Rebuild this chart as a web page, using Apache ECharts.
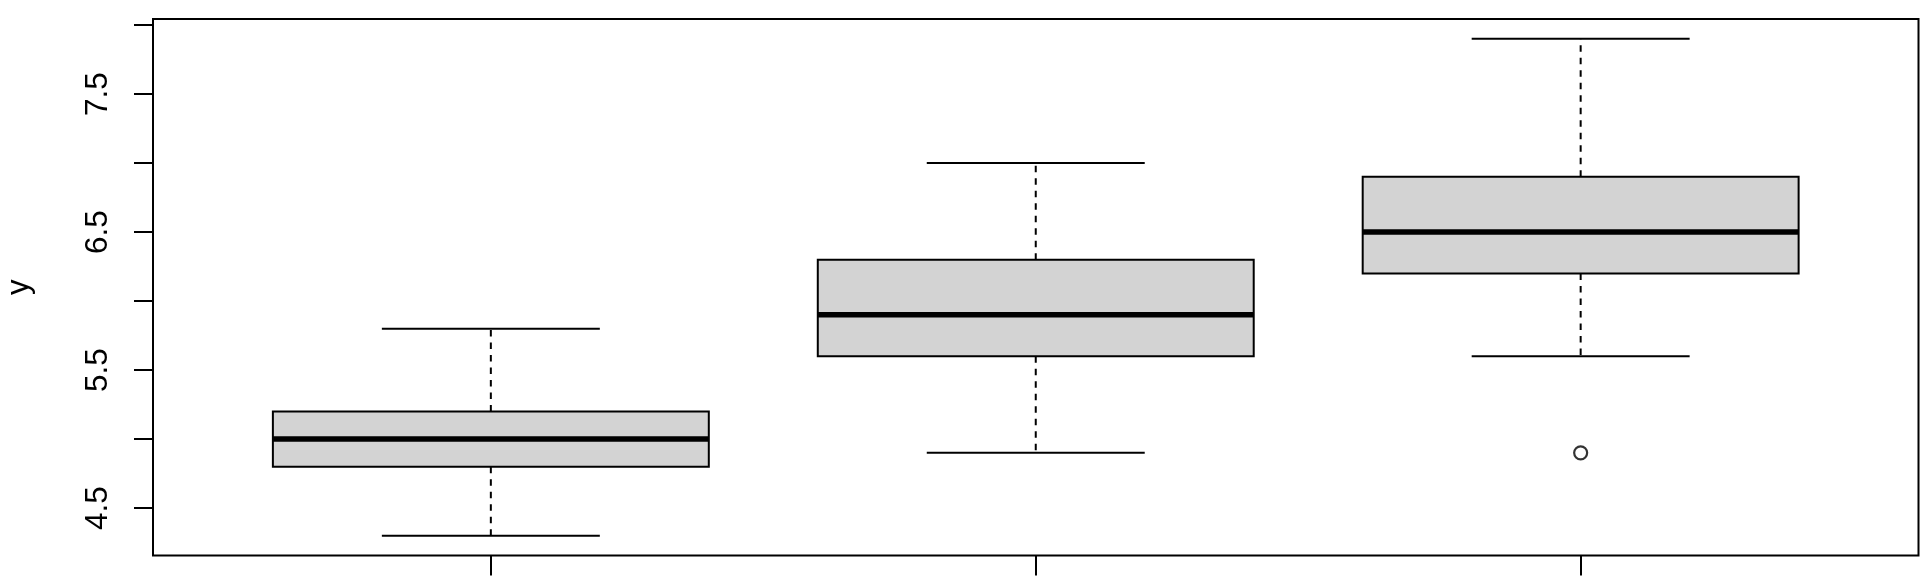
<!DOCTYPE html>
<html>
<head>
<meta charset="utf-8">
<script src="https://cdn.jsdelivr.net/npm/echarts@6/dist/echarts.min.js"></script>
<style>
html,body{margin:0;padding:0;background:#fff;}
#chart{width:1920px;height:576px;}
</style>
</head>
<body>
<div id="chart"></div>
<script>
// group positions (1, 2, 3)
const groups = [1, 2, 3];
const lowerWhisker = [4.3, 4.9, 5.6];
const q1 = [4.8, 5.6, 6.2];
const median = [5.0, 5.9, 6.5];
const q3 = [5.2, 6.3, 6.9];
const upperWhisker = [5.8, 7.0, 7.9];
const outliers = [[3, 4.9]];
const yTicks = [4.5, 5.0, 5.5, 6.0, 6.5, 7.0, 7.5, 8.0];
const yLabels = [4.5, 5.5, 6.5, 7.5];
const yName = 'y';

const boxData = groups.map((g, i) => [g, lowerWhisker[i], q1[i], median[i], q3[i], upperWhisker[i]]);

const chart = echarts.init(document.getElementById('chart'), null, {renderer: 'canvas'});
const FONT = "'Liberation Sans', Arial, Helvetica, sans-serif";

function renderBox(params, api) {
  const x = api.value(0);
  const lo = api.value(1), a = api.value(2), m = api.value(3), b = api.value(4), hi = api.value(5);
  const halfBox = 0.4, halfCap = 0.2;
  const pL = api.coord([x - halfBox, m]);
  const pR = api.coord([x + halfBox, m]);
  const cL = api.coord([x - halfCap, m]);
  const cR = api.coord([x + halfCap, m]);
  const cx = api.coord([x, m])[0];
  const yLo = api.coord([x, lo])[1];
  const yA = api.coord([x, a])[1];
  const yM = api.coord([x, m])[1];
  const yB = api.coord([x, b])[1];
  const yHi = api.coord([x, hi])[1];
  const solid = {stroke: '#000', lineWidth: 2, fill: null};
  const dashed = {stroke: '#000', lineWidth: 2, lineDash: [6.5, 6], fill: null};
  return {
    type: 'group',
    children: [
      {type: 'line', shape: {x1: cx, y1: yB, x2: cx, y2: yHi}, style: dashed},
      {type: 'line', shape: {x1: cx, y1: yA, x2: cx, y2: yLo}, style: dashed},
      {type: 'line', shape: {x1: cL[0], y1: yHi, x2: cR[0], y2: yHi}, style: solid},
      {type: 'line', shape: {x1: cL[0], y1: yLo, x2: cR[0], y2: yLo}, style: solid},
      {type: 'rect', shape: {x: pL[0], y: yB, width: pR[0] - pL[0], height: yA - yB},
        style: {fill: '#d3d3d3', stroke: '#000', lineWidth: 2}},
      {type: 'line', shape: {x1: pL[0], y1: yM, x2: pR[0], y2: yM}, style: {stroke: '#000', lineWidth: 5.5}}
    ]
  };
}

const option = {
  backgroundColor: '#fff',
  animation: false,
  grid: {left: 153, right: 1.5, top: 19, bottom: 20.5, containLabel: false, outerBoundsMode: 'none',
    show: true, borderColor: '#000', borderWidth: 2, backgroundColor: 'transparent'},
  xAxis: {
    type: 'value', min: 0.38, max: 3.62,
    axisLine: {show: false},
    axisTick: {show: true, length: 20, inside: false, customValues: groups, lineStyle: {color: '#000', width: 2}},
    axisLabel: {show: false},
    splitLine: {show: false}
  },
  yAxis: {
    type: 'value', min: 4.156, max: 8.044,
    name: yName, nameLocation: 'middle', nameGap: 118, nameRotate: 90,
    nameTextStyle: {fontFamily: FONT, fontSize: 31, color: '#000'},
    axisLine: {show: false},
    axisTick: {show: true, length: 19, inside: false, customValues: yTicks, lineStyle: {color: '#000', width: 2}},
    axisLabel: {show: true, customValues: yLabels, rotate: 90, margin: 39, fontFamily: FONT, fontSize: 31.5, color: '#000',
      formatter: v => v.toFixed(1)},
    splitLine: {show: false}
  },
  series: [
    {type: 'custom', renderItem: renderBox, data: boxData, encode: {x: 0, y: [1, 2, 3, 4, 5]}, z: 2},
    {type: 'scatter', data: outliers, symbol: 'circle', symbolSize: 13,
      itemStyle: {color: 'rgba(0,0,0,0)', borderColor: '#000', borderWidth: 2.2}, z: 3}
  ]
};
chart.setOption(option);
</script>
</body>
</html>
